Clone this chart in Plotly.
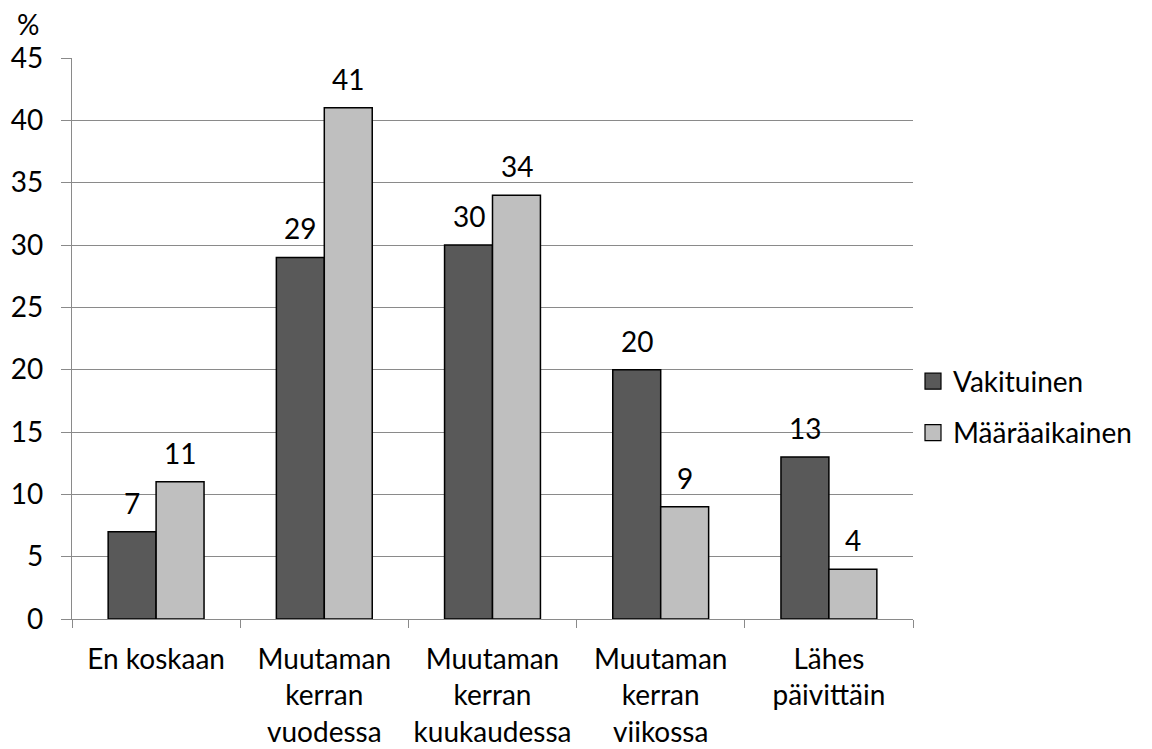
import plotly.graph_objects as go

categories = [
    "En koskaan",
    "Muutaman<br>kerran<br>vuodessa",
    "Muutaman<br>kerran<br>kuukaudessa",
    "Muutaman<br>kerran<br>viikossa",
    "Lähes<br>päivittäin",
]
vakituinen = [7, 29, 30, 20, 13]
maaraaikainen = [11, 41, 34, 9, 4]
y_ticks = [0, 5, 10, 15, 20, 25, 30, 35, 40, 45]

FONT = "Lato, 'Open Sans', sans-serif"
FS = 28
GRID = "#8a8a8a"
DARK = "#595959"
LIGHT = "#BFBFBF"

fig = go.Figure()
fig.add_bar(
    name="Vakituinen", x=categories, y=vakituinen, showlegend=False,
    marker=dict(color=DARK, line=dict(color="black", width=1.5)),
)
fig.add_bar(
    name="Määräaikainen", x=categories, y=maaraaikainen, showlegend=False,
    marker=dict(color=LIGHT, line=dict(color="black", width=1.5)),
)

# legend entries with square swatches
for name, col, grp in [("Vakituinen", DARK, "a"), ("Määräaikainen", LIGHT, "b")]:
    fig.add_scatter(
        x=[None], y=[None], mode="markers", name=name, legendgroup=grp,
        marker=dict(symbol="square", size=16, color=col,
                    line=dict(color="black", width=1.2)),
    )

# value labels above each bar
annotations = []
for series, shift in [(vakituinen, -24), (maaraaikainen, 24)]:
    for cat, v in zip(categories, series):
        annotations.append(dict(
            x=cat, y=v, xref="x", yref="y", text=str(v), showarrow=False,
            xshift=shift, yshift=29, yanchor="middle", xanchor="center",
            font=dict(size=FS, family=FONT, color="black"),
        ))
annotations.append(dict(
    text="%", xref="paper", yref="paper", x=0, y=1, xshift=-31, yshift=34,
    xanchor="right", yanchor="middle", showarrow=False,
    font=dict(size=FS, family=FONT, color="black"),
))

fig.update_layout(
    width=1152, height=749,
    margin=dict(l=72, r=239, t=58, b=130, autoexpand=False),
    paper_bgcolor="white", plot_bgcolor="white",
    barmode="group", bargap=0.43, bargroupgap=0,
    font=dict(family=FONT, size=FS, color="black"),
    showlegend=True,
    legend=dict(
        x=1.0, y=0.378, xanchor="left", yanchor="middle",
        font=dict(size=FS), itemwidth=30, tracegroupgap=12,
        traceorder="grouped", bgcolor="rgba(0,0,0,0)",
    ),
    annotations=annotations,
)
fig.update_yaxes(
    range=[0, 45], tickvals=y_ticks, showgrid=True, gridcolor=GRID, gridwidth=1.3,
    showline=True, linecolor=GRID, linewidth=1.3, ticks="outside", ticklen=10,
    tickcolor=GRID, zeroline=False, tickfont=dict(size=FS), ticklabelstandoff=12,
    automargin=False,
)
fig.update_xaxes(
    showline=True, linecolor=GRID, linewidth=1.3, ticks="outside", ticklen=8,
    tickcolor=GRID, tickson="boundaries", tickfont=dict(size=FS),
    ticklabelstandoff=15, tickangle=0, automargin=False,
)

fig.write_html("out.html")
